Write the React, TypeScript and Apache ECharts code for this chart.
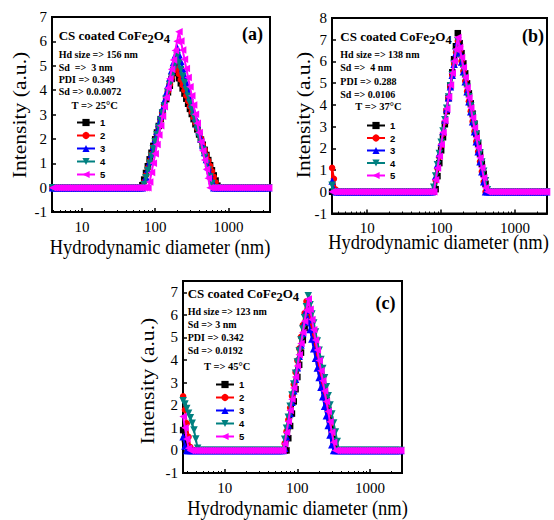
import React, { useEffect, useRef } from "react";
import * as echarts from "echarts";

// Hydrodynamic size bins (nm), shared by every run
const SIZES_NM: number[] = [
  2.661, 2.818, 2.985, 3.162, 3.35, 3.548, 3.758, 3.981, 4.217, 4.467,
  4.732, 5.012, 5.309, 5.623, 5.957, 6.31, 6.683, 7.079, 7.499, 7.943,
  8.414, 8.913, 9.441, 10.0, 10.59, 11.22, 11.89, 12.59, 13.34, 14.13,
  14.96, 15.85, 16.79, 17.78, 18.84, 19.95, 21.13, 22.39, 23.71, 25.12,
  26.61, 28.18, 29.85, 31.62, 33.5, 35.48, 37.58, 39.81, 42.17, 44.67,
  47.32, 50.12, 53.09, 56.23, 59.57, 63.1, 66.83, 70.79, 74.99, 79.43,
  84.14, 89.13, 94.41, 100.0, 105.9, 112.2, 118.9, 125.9, 133.4, 141.3,
  149.6, 158.5, 167.9, 177.8, 188.4, 199.5, 211.3, 223.9, 237.1, 251.2,
  266.1, 281.8, 298.5, 316.2, 335.0, 354.8, 375.8, 398.1, 421.7, 446.7,
  473.2, 501.2, 530.9, 562.3, 595.7, 631.0, 668.3, 707.9, 749.9, 794.3,
  841.4, 891.3, 944.1, 1000, 1059, 1122, 1189, 1259, 1334, 1413,
  1496, 1585, 1679, 1778, 1884, 1995, 2113, 2239, 2371, 2512,
  2661, 2818, 2985, 3162, 3350, 3548, 3758,
];

const X_TICKS = [10, 100, 1000];
const X_MINOR_TICKS = [3, 4, 5, 6, 7, 8, 9, 20, 30, 40, 50, 60, 70, 80, 90, 200, 300, 400, 500, 600, 700, 800, 900, 2000, 3000];
const RUN_NAMES = ["1", "2", "3", "4", "5"];

// Each run: [first bin index, intensities from that bin]; every other bin reads 0
type Seg = [number, number[]];

// ---- (a) T = 25 C
const A1: Seg[] = [[56, [0.1, 0.33, 0.6, 0.88, 1.16, 1.43, 1.71, 1.98, 2.26, 2.53, 2.81, 3.08, 3.36, 3.63, 3.91, 4.18, 4.46, 4.73, 4.95, 4.7, 4.49, 4.28, 4.07, 3.86, 3.65, 3.44, 3.23, 3.02, 2.81, 2.6, 2.39, 2.18, 1.97, 1.76, 1.55, 1.34, 1.13, 0.92, 0.71, 0.5, 0.29, 0.08]]];
const A2: Seg[] = [[57, [0.23, 0.52, 0.8, 1.09, 1.38, 1.66, 1.95, 2.24, 2.52, 2.81, 3.09, 3.38, 3.67, 3.95, 4.24, 4.53, 4.81, 5.1, 4.88, 4.66, 4.43, 4.21, 3.99, 3.77, 3.55, 3.33, 3.1, 2.88, 2.66, 2.44, 2.22, 2.0, 1.77, 1.55, 1.33, 1.11, 0.89, 0.67, 0.44, 0.22]]];
const A3: Seg[] = [[57, [0.13, 0.44, 0.75, 1.06, 1.38, 1.69, 2.0, 2.31, 2.63, 2.94, 3.25, 3.56, 3.88, 4.19, 4.5, 4.81, 5.13, 5.44, 5.75, 5.46, 5.18, 4.89, 4.6, 4.31, 4.03, 3.74, 3.45, 3.16, 2.88, 2.59, 2.3, 2.01, 1.73, 1.44, 1.15, 0.86, 0.58, 0.29]]];
const A4: Seg[] = [[57, [0.12, 0.41, 0.7, 1.0, 1.29, 1.59, 1.88, 2.17, 2.47, 2.76, 3.05, 3.35, 3.64, 3.93, 4.23, 4.52, 4.81, 5.11, 5.4, 5.12, 4.85, 4.57, 4.3, 4.02, 3.75, 3.47, 3.2, 2.92, 2.64, 2.37, 2.09, 1.82, 1.54, 1.27, 0.99, 0.72, 0.44, 0.17]]];
const A5: Seg[] = [[60, [0.23, 0.62, 1.0, 1.39, 1.77, 2.16, 2.54, 2.93, 3.32, 3.7, 4.09, 4.47, 4.86, 5.24, 5.63, 6.01, 6.4, 6.02, 5.65, 5.27, 4.89, 4.52, 4.14, 3.77, 3.39, 3.01, 2.64, 2.26, 1.88, 1.51, 1.13, 0.75, 0.38]]];

// ---- (b) T = 37 C
const B1: Seg[] = [[60, [0.12, 0.72, 1.32, 1.91, 2.51, 3.11, 3.71, 4.31, 4.9, 5.5, 6.1, 6.7, 7.3, 6.84, 6.38, 5.91, 5.45, 4.99, 4.53, 4.07, 3.6, 3.14, 2.68, 2.22, 1.76, 1.29, 0.83, 0.37]]];
const B2: Seg[] = [[4, [1.1, 0.6, 0.1]], [60, [0.53, 1.07, 1.6, 2.14, 2.67, 3.21, 3.74, 4.28, 4.81, 5.35, 5.88, 6.42, 6.95, 6.49, 6.02, 5.56, 5.1, 4.63, 4.17, 3.71, 3.24, 2.78, 2.32, 1.85, 1.39, 0.93, 0.46]]];
const B3: Seg[] = [[4, [0.5, 0.1]], [59, [0.21, 0.72, 1.24, 1.75, 2.27, 2.78, 3.3, 3.81, 4.33, 4.84, 5.36, 5.87, 6.39, 6.9, 6.44, 5.98, 5.52, 5.06, 4.6, 4.14, 3.68, 3.22, 2.76, 2.3, 1.84, 1.38, 0.92, 0.46]]];
const B4: Seg[] = [[4, [0.3]], [59, [0.21, 0.73, 1.25, 1.76, 2.28, 2.8, 3.32, 3.84, 4.36, 4.88, 5.39, 5.91, 6.43, 6.95, 6.52, 6.09, 5.66, 5.23, 4.81, 4.38, 3.95, 3.52, 3.09, 2.66, 2.23, 1.8, 1.37, 0.94, 0.51, 0.09]]];
const B5: Seg[] = [[60, [0.55, 1.09, 1.64, 2.18, 2.73, 3.28, 3.82, 4.37, 4.92, 5.46, 6.01, 6.55, 7.1, 6.64, 6.18, 5.72, 5.26, 4.79, 4.33, 3.87, 3.41, 2.95, 2.49, 2.03, 1.57, 1.11, 0.65, 0.18]]];

// ---- (c) T = 45 C
const C1: Seg[] = [[0, [0.9, 0.5, 0.2]], [58, [0.54, 1.08, 1.63, 2.17, 2.71, 3.25, 3.79, 4.33, 4.88, 5.42, 5.96, 6.5, 6.07, 5.64, 5.22, 4.79, 4.36, 3.93, 3.51, 3.08, 2.65, 2.22, 1.8, 1.37, 0.94, 0.51, 0.09]]];
const C2: Seg[] = [[0, [2.4, 1.8, 1.2, 0.6, 0.15]], [56, [0.31, 0.84, 1.36, 1.89, 2.41, 2.93, 3.46, 3.98, 4.51, 5.03, 5.55, 6.08, 6.6, 6.18, 5.76, 5.35, 4.93, 4.51, 4.09, 3.68, 3.26, 2.84, 2.42, 2.01, 1.59, 1.17, 0.75, 0.33]]];
const C3: Seg[] = [[0, [0.6, 0.2]], [56, [0.1, 0.61, 1.12, 1.63, 2.13, 2.64, 3.15, 3.66, 4.17, 4.67, 5.18, 5.69, 6.2, 5.78, 5.35, 4.93, 4.5, 4.08, 3.65, 3.23, 2.8, 2.38, 1.95, 1.53, 1.1, 0.68, 0.25]]];
const C4: Seg[] = [[0, [2.2, 2.05, 1.85, 1.65, 1.45, 1.2, 0.9, 0.5, 0.1]], [56, [0.49, 0.98, 1.47, 1.96, 2.45, 2.94, 3.42, 3.91, 4.4, 4.89, 5.38, 5.87, 6.36, 6.85, 6.45, 6.04, 5.64, 5.24, 4.84, 4.43, 4.03, 3.63, 3.22, 2.82, 2.42, 2.01, 1.61, 1.21, 0.81, 0.4]]];
const C5: Seg[] = [[0, [1.5, 1.0, 0.5, 0.1]], [56, [0.3, 0.79, 1.28, 1.77, 2.27, 2.76, 3.25, 3.74, 4.24, 4.73, 5.22, 5.72, 6.21, 6.7, 6.25, 5.8, 5.34, 4.89, 4.44, 3.98, 3.53, 3.08, 2.63, 2.17, 1.72, 1.27, 0.81, 0.36]]];

const INFO_A = ["Hd size => 156 nm", "Sd  =>  3 nm", "PDI => 0.349", "Sd => 0.0.0072"];
const INFO_B = ["Hd size => 138 nm", "Sd =>  4 nm", "PDI => 0.288", "Sd => 0.0106"];
const INFO_C = ["Hd size => 123 nm", "Sd => 3 nm", "PDI => 0.342", "Sd => 0.0192"];
const TEMPS = ["T => 25°C", "T => 37°C", "T => 45°C"];
const TAGS = ["(a)", "(b)", "(c)"];
const X_TITLE = "Hydrodynamic diameter (nm)";
const Y_TITLE = "Intensity (a.u.)";

const RUN_STYLE = [
  { color: "#000000", symbol: "rect", size: 6.5, rotate: 0 },
  { color: "#FF0000", symbol: "circle", size: 6.5, rotate: 0 },
  { color: "#0000FF", symbol: "triangle", size: 7.5, rotate: 0 },
  { color: "#008080", symbol: "triangle", size: 7.5, rotate: 180 },
  { color: "#FF00FF", symbol: "triangle", size: 7.5, rotate: 90 },
];

const PANELS = [
  {
    grid: { left: 52, top: 17, width: 218, height: 195 },
    x: [3.9, 3700], y: [-1, 7],
    runs: [A1, A2, A3, A4, A5], info: INFO_A,
    titlePos: [58.7, 35.5], infoX: 58.7, infoY: [54.5, 67, 79, 91.5], tempPos: [71.5, 105],
    tagPos: [252.5, 34], xTitlePos: [160, 246.5], yTitlePos: [19.5, 115],
    legend: { left: 76, top: 117.5, gap: 3 },
  },
  {
    grid: { left: 332, top: 18, width: 215, height: 195.5 },
    x: [3.34, 2700], y: [-1, 8],
    runs: [B1, B2, B3, B4, B5], info: INFO_B,
    titlePos: [340.3, 36.5], infoX: 340.3, infoY: [54.3, 67.7, 81, 94.3], tempPos: [355.3, 106.7],
    tagPos: [533, 36], xTitlePos: [438.5, 242], yTitlePos: [303.5, 115],
    legend: { left: 366, top: 120.5, gap: 2.5 },
  },
  {
    grid: { left: 183, top: 281, width: 219, height: 192 },
    x: [2.65, 2770], y: [-1, 7.5],
    runs: [C1, C2, C3, C4, C5], info: INFO_C,
    titlePos: [187.7, 293.5], infoX: 187.7, infoY: [311.7, 324.2, 337.7, 350], tempPos: [204, 366],
    tagPos: [385.5, 302.5], xTitlePos: [297.5, 508], yTitlePos: [147.5, 381],
    legend: { left: 215, top: 379.5, gap: 3 },
  },
];

function runData(segs: Seg[]): number[][] {
  const y = SIZES_NM.map(() => 0);
  segs.forEach(([start, vals]) => {
    vals.forEach((v, k) => {
      y[start + k] = v;
    });
  });
  return SIZES_NM.map((x, i) => [x, y[i]]);
}

const SERIF = "Liberation Serif";

function buildOption() {
  const grid: any[] = [];
  const xAxis: any[] = [];
  const yAxis: any[] = [];
  const legend: any[] = [];
  const series: any[] = [];
  const graphic: any[] = [];

  PANELS.forEach((p, i) => {
    grid.push({ ...p.grid, show: true, borderColor: "#000", borderWidth: 2, backgroundColor: "transparent" });
    xAxis.push({
      type: "log", logBase: 10, gridIndex: i, min: p.x[0], max: p.x[1], position: "bottom",
      axisLine: { show: true, onZero: false, lineStyle: { color: "#000", width: 2 } },
      axisTick: { show: true, inside: true, length: 4, lineStyle: { color: "#000", width: 1.5 } },
      axisLabel: {
        color: "#000", fontSize: 15, fontFamily: SERIF, margin: 7,
        formatter: (v: number) => {
          const t = X_TICKS.find((tt) => Math.abs(tt - v) / tt < 1e-6);
          return t ? String(t) : "";
        },
      },
      splitLine: { show: false },
    });
    xAxis.push({
      type: "log", logBase: 10, gridIndex: i, min: p.x[0], max: p.x[1], position: "bottom",
      axisLine: { show: false, onZero: false },
      axisTick: {
        show: true, inside: true, length: 2, lineStyle: { color: "#000", width: 1 },
        customValues: X_MINOR_TICKS.filter((t) => t > p.x[0] && t < p.x[1]),
      },
      axisLabel: { show: false },
      splitLine: { show: false },
    });
    yAxis.push({
      type: "value", gridIndex: i, min: p.y[0], max: p.y[1], interval: 1,
      axisLine: { show: true, onZero: false, lineStyle: { color: "#000", width: 2 } },
      axisTick: { show: true, inside: true, length: 4, lineStyle: { color: "#000", width: 1.5 } },
      axisLabel: {
        color: "#000", fontSize: 15, fontFamily: SERIF, margin: 5,
        formatter: (v: number) => (Number.isInteger(v) ? String(v) : ""),
      },
      splitLine: { show: false },
    });
    legend.push({
      data: RUN_NAMES, orient: "vertical", left: p.legend.left, top: p.legend.top,
      itemWidth: 18, itemHeight: 9, itemGap: p.legend.gap, padding: 0, selectedMode: false,
      textStyle: { fontSize: 9.5, fontWeight: "bold", fontFamily: "Liberation Sans", color: "#000", lineHeight: 9 },
    });
    p.runs.forEach((segs, k) => {
      const st = RUN_STYLE[k];
      series.push({
        type: "line", name: RUN_NAMES[k], xAxisIndex: 2 * i, yAxisIndex: i,
        data: runData(segs), symbol: st.symbol, symbolSize: st.size, symbolRotate: st.rotate,
        showAllSymbol: true, clip: true,
        lineStyle: { color: st.color, width: 2 }, itemStyle: { color: st.color },
        z: 2 + k,
      });
    });

    graphic.push({
      type: "text", x: p.titlePos[0], y: p.titlePos[1],
      style: {
        text: "{m|CS coated CoFe}{s|2}{m|O}{s|4}", verticalAlign: "middle", align: "left",
        rich: {
          m: { fontSize: 13, fontWeight: "bold", fontFamily: SERIF, fill: "#000" },
          s: { fontSize: 12.5, fontWeight: "bold", fontFamily: SERIF, fill: "#000", padding: [6, 0, 0, 0] },
        },
      },
    });
    p.info.forEach((line, k) => {
      graphic.push({
        type: "text", x: p.infoX, y: p.infoY[k],
        style: { text: line, fontSize: 10, fontWeight: "bold", fontFamily: SERIF, fill: "#000", align: "left", verticalAlign: "middle" },
      });
    });
    graphic.push({
      type: "text", x: p.tempPos[0], y: p.tempPos[1],
      style: { text: TEMPS[i], fontSize: 10.5, fontWeight: "bold", fontFamily: SERIF, fill: "#000", align: "left", verticalAlign: "middle" },
    });
    graphic.push({
      type: "text", x: p.tagPos[0], y: p.tagPos[1],
      style: { text: TAGS[i], fontSize: 18, fontWeight: "bold", fontFamily: SERIF, fill: "#000", align: "center", verticalAlign: "middle" },
    });
    graphic.push({
      type: "text", x: p.xTitlePos[0], y: p.xTitlePos[1], scaleY: 1.12,
      style: { text: X_TITLE, fontSize: 18.5, fontFamily: SERIF, fill: "#000", align: "center", verticalAlign: "middle" },
    });
    graphic.push({
      type: "text", x: p.yTitlePos[0], y: p.yTitlePos[1], rotation: Math.PI / 2, scaleX: 1.2,
      style: { text: Y_TITLE, fontSize: 18, fontFamily: SERIF, fill: "#000", align: "center", verticalAlign: "middle" },
    });
  });

  return {
    animation: false,
    backgroundColor: "#ffffff",
    textStyle: { fontFamily: SERIF },
    grid, xAxis, yAxis, legend, series, graphic,
  };
}

export default function App() {
  const ref = useRef<HTMLDivElement>(null);
  useEffect(() => {
    if (!ref.current) return;
    const chart = echarts.init(ref.current, undefined, { renderer: "svg" });
    chart.setOption(buildOption() as any);
    return () => chart.dispose();
  }, []);
  return <div ref={ref} style={{ position: "absolute", left: 0, top: 0, width: 554, height: 520 }} />;
}
